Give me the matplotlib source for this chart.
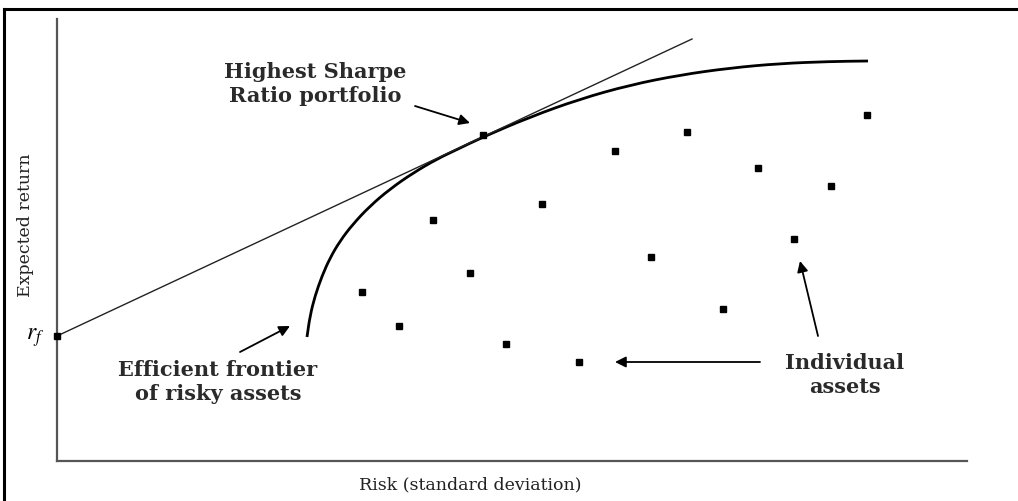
import numpy as np
from matplotlib import pyplot as plt
from matplotlib.lines import Line2D
from matplotlib.path import Path
import matplotlib.patches as patches

# positions (x = risk, y = expected return, arbitrary units)
asset_risk = [426, 630, 558, 810, 701, 774, 485, 376, 737, 594, 413, 305, 666, 342, 449, 522]
asset_return = [326, 329, 310, 346, 293, 275, 257, 241, 222, 204, 188, 169, 152, 135, 117, 99]

frontier_risk = [250, 253, 258, 265, 273, 283, 296, 313, 333, 356, 380, 400, 426,
                 473, 523, 573, 623, 673, 723, 773, 811]
frontier_return = [124, 145, 165, 185, 203, 220, 237, 255, 272, 288, 302, 311.5, 324,
                   344, 362, 376, 386, 393, 397.5, 399.5, 400]

rf_return = 125
cml_end = (635, 422)

plt.rcParams['mathtext.fontset'] = 'stix'

fig = plt.figure(figsize=(10.18, 5.02), dpi=100)
ax = fig.add_axes([57 / 1018, 40 / 502, 910 / 1018, 442 / 502])
ax.set_xlim(0, 910)
ax.set_ylim(0, 442)

serif = ['DejaVu Serif']

# capital market line
ax.plot([0, cml_end[0]], [rf_return, cml_end[1]], color='#222222', lw=1.0)

# efficient frontier, drawn as a smooth path through the read points
pts = np.column_stack([frontier_risk, frontier_return])
verts = [pts[0], (pts[0] + pts[1]) / 2]
codes = [Path.MOVETO, Path.LINETO]
for i in range(1, len(pts) - 1):
    verts += [pts[i], (pts[i] + pts[i + 1]) / 2]
    codes += [Path.CURVE3, Path.CURVE3]
verts.append(pts[-1])
codes.append(Path.LINETO)
ax.add_patch(patches.PathPatch(Path(verts, codes), fill=False, lw=2.0,
                               edgecolor='black', capstyle='butt'))

# assets
ax.plot(asset_risk, asset_return, ls='none', marker='s', ms=5, color='black')
ax.plot([0], [rf_return], marker='s', ms=5, color='black', clip_on=False, zorder=5)

for side in ['top', 'right']:
    ax.spines[side].set_visible(False)
for side in ['left', 'bottom']:
    ax.spines[side].set_color('#555555')
    ax.spines[side].set_linewidth(1.6)
ax.set_xticks([])
ax.set_yticks([])

lab = dict(family=serif, fontsize=12.5, color='#222222', ha='center', va='center')
ax.text(413, -23, 'Risk (standard deviation)', clip_on=False, **lab)
ax.text(-32, 237, 'Expected return', rotation=90, clip_on=False, **lab)
ax.text(-22, rf_return, r'$r_f$', fontsize=17, ha='center', va='center')

arrow = dict(arrowstyle='-|>', color='black', lw=1.3, mutation_scale=16,
             shrinkA=0, shrinkB=0)
txt = dict(family=serif, fontsize=15, fontweight='bold', color='#2a2a2a',
           ha='center', va='center', linespacing=1.25)

ax.text(258, 377.5, 'Highest Sharpe\nRatio portfolio', **txt)
ax.annotate('', xy=(413, 338), xytext=(358, 355), arrowprops=arrow)

ax.text(161, 79.5, 'Efficient frontier\nof risky assets', **txt)
ax.annotate('', xy=(233, 135), xytext=(183, 109), arrowprops=arrow)

ax.text(788, 86.5, 'Individual\nassets', **txt)
ax.annotate('', xy=(558, 99), xytext=(703, 99), arrowprops=arrow)
ax.annotate('', xy=(743, 200), xytext=(761, 125), arrowprops=arrow)

# frame around the figure (top and left edges visible)
fig.add_artist(Line2D([4 / 1018, 1], [1 - 10 / 502, 1 - 10 / 502], color='black', lw=2.2))
fig.add_artist(Line2D([4 / 1018, 4 / 1018], [0, 1 - 10 / 502], color='black', lw=2.2))

fig.savefig('out.png', dpi=100, facecolor='white')
